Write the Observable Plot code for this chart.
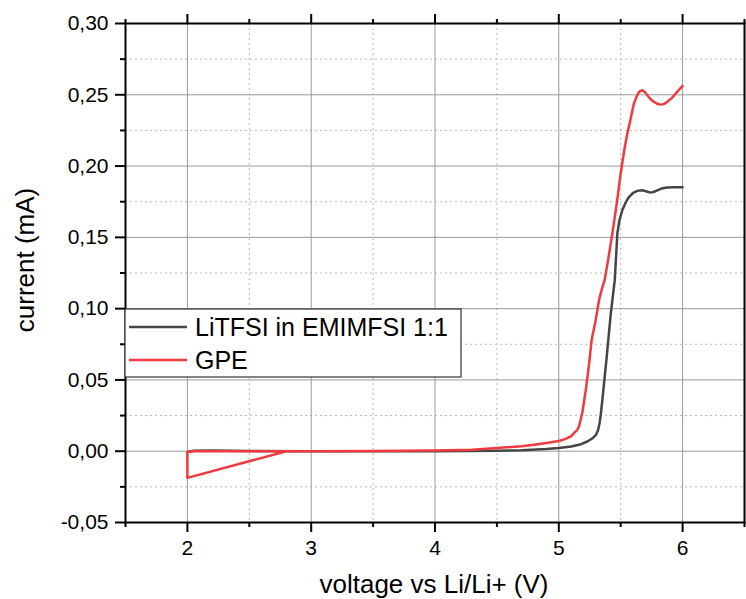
<!DOCTYPE html>
<html>
<head>
<meta charset="utf-8">
<script src="https://cdn.jsdelivr.net/npm/d3@7"></script>
<script src="https://cdn.jsdelivr.net/npm/@observablehq/plot@0.6"></script>
<style>
  html, body { margin: 0; padding: 0; background: #fff; }
  #chart { width: 746px; height: 599px; }
</style>
</head>
<body>
<div id="chart"></div>
<script>
// Series names
const seriesNames = ["LiTFSI in EMIMFSI 1:1", "GPE"];
const seriesColors = ["#454545", "#ef3b3f"];

// LiTFSI in EMIMFSI 1:1
const litfsiVoltage = [2.0, 2.05, 2.2, 2.5, 3.0, 3.5, 4.0, 4.5, 4.7, 4.9, 5.0, 5.1, 5.18, 5.23, 5.27, 5.3, 5.317, 5.33, 5.34, 5.36, 5.387, 5.42, 5.452, 5.473, 5.49, 5.513, 5.54, 5.567, 5.6, 5.634, 5.675, 5.71, 5.742, 5.77, 5.796, 5.83, 5.876, 5.93, 6.0];
const litfsiCurrent = [-0.0005, 0.0003, 0.0005, 0.0002, 0, 0, 0, 0.0003, 0.0007, 0.0015, 0.0023, 0.0033, 0.0049, 0.0068, 0.0089, 0.0115, 0.0147, 0.02, 0.0264, 0.0428, 0.0661, 0.0966, 0.12, 0.1527, 0.162, 0.169, 0.1745, 0.1783, 0.1812, 0.1826, 0.183, 0.1822, 0.1814, 0.182, 0.183, 0.1842, 0.1849, 0.1852, 0.1851];

// GPE
const gpeVoltage = [2.8, 2.0, 2.0, 2.05, 2.5, 3.0, 3.5, 4.0, 4.3, 4.5, 4.7, 4.8, 4.9, 5.0, 5.05, 5.1, 5.12, 5.15, 5.165, 5.19, 5.218, 5.245, 5.265, 5.298, 5.325, 5.345, 5.37, 5.4, 5.433, 5.47, 5.5, 5.53, 5.554, 5.58, 5.607, 5.63, 5.648, 5.675, 5.7, 5.715, 5.74, 5.769, 5.8, 5.823, 5.85, 5.876, 5.91, 5.944, 5.97, 6.0];
const gpeCurrent = [0, -0.0187, -0.0005, 0, 0, 0, 0.0002, 0.0005, 0.001, 0.0023, 0.0035, 0.0045, 0.0057, 0.0072, 0.0085, 0.0105, 0.0125, 0.015, 0.018, 0.027, 0.043, 0.0615, 0.078, 0.092, 0.106, 0.113, 0.12, 0.135, 0.153, 0.175, 0.195, 0.212, 0.223, 0.233, 0.244, 0.249, 0.252, 0.2532, 0.2515, 0.2497, 0.247, 0.245, 0.2435, 0.2431, 0.2436, 0.245, 0.2475, 0.2508, 0.2535, 0.2562];

// Ticks
const xMajorTicks = [2, 3, 4, 5, 6];
const xMinorTicks = [1.5, 2.5, 3.5, 4.5, 5.5, 6.5];
const yMajorTicks = [-0.05, 0, 0.05, 0.10, 0.15, 0.20, 0.25, 0.30];
const yMinorTicks = [-0.025, 0.025, 0.075, 0.125, 0.175, 0.225, 0.275];

const xDomain = [1.5, 6.5];
const yDomain = [-0.05, 0.30];

const rows = [];
litfsiVoltage.forEach((v, i) => rows.push({s: seriesNames[0], v, c: litfsiCurrent[i]}));
gpeVoltage.forEach((v, i) => rows.push({s: seriesNames[1], v, c: gpeCurrent[i]}));

const fmt = d => d.toFixed(2).replace(".", ",");
const font = "Liberation Sans, Arial, sans-serif";

const W = 746, H = 599;
const mL = 125, mR = 2, mT = 23, mB = 77;

const plot = Plot.plot({
  width: W,
  height: H,
  marginLeft: mL,
  marginRight: mR,
  marginTop: mT,
  marginBottom: mB,
  style: {fontFamily: font, background: "#fff", color: "#000"},
  x: {domain: xDomain},
  y: {domain: yDomain},
  color: {domain: seriesNames, range: seriesColors},
  marks: [
    Plot.gridX(xMinorTicks.slice(1, -1), {stroke: "#b8b8b8", strokeOpacity: 1, strokeDasharray: "2,3"}),
    Plot.gridY(yMinorTicks, {stroke: "#b8b8b8", strokeOpacity: 1, strokeDasharray: "2,3"}),
    Plot.gridX(xMajorTicks, {stroke: "#9a9a9a", strokeOpacity: 1}),
    Plot.gridY(yMajorTicks.slice(1, -1), {stroke: "#9a9a9a", strokeOpacity: 1}),
    Plot.axisY({ticks: yMajorTicks, tickSize: 10, tickPadding: 7, tickFormat: fmt, fontSize: 21, label: null, stroke: "#000", strokeWidth: 2}),
    Plot.axisY({ticks: yMinorTicks, tickSize: 5, tickFormat: () => "", label: null, strokeWidth: 2}),
    Plot.axisX({ticks: xMajorTicks, tickSize: 10, tickPadding: 8, tickFormat: d => String(d), fontSize: 21, label: null, strokeWidth: 2}),
    Plot.axisX({ticks: xMinorTicks, tickSize: 5, tickFormat: () => "", label: null, strokeWidth: 2}),
    Plot.axisX({anchor: "top", ticks: xMajorTicks, tickSize: 10, tickFormat: () => "", label: null, strokeWidth: 2}),
    Plot.axisX({anchor: "top", ticks: xMinorTicks, tickSize: 5, tickFormat: () => "", label: null, strokeWidth: 2}),
    Plot.line(rows, {x: "v", y: "c", z: "s", stroke: "s", strokeWidth: 2.5, strokeLinejoin: "round"}),
    Plot.frame({stroke: "#000", strokeWidth: 2})
  ]
});

document.getElementById("chart").appendChild(plot);

const svg = d3.select(plot);
// Axis titles
svg.append("text")
  .attr("x", 434).attr("y", 593)
  .attr("text-anchor", "middle")
  .attr("font-family", font).attr("font-size", 26).attr("fill", "#000")
  .text("voltage vs Li/Li+ (V)");
svg.append("text")
  .attr("transform", "translate(34,260) rotate(-90)")
  .attr("text-anchor", "middle")
  .attr("font-family", font).attr("font-size", 26).attr("fill", "#000")
  .text("current (mA)");

// Legend
const lg = svg.append("g");
lg.append("rect").attr("x", 125).attr("y", 309).attr("width", 336).attr("height", 68)
  .attr("fill", "#fff").attr("stroke", "#333").attr("stroke-width", 1.2);
seriesNames.forEach((name, i) => {
  const y = 327 + i * 33;
  lg.append("line").attr("x1", 129).attr("x2", 187).attr("y1", y).attr("y2", y)
    .attr("stroke", seriesColors[i]).attr("stroke-width", 2.5);
  lg.append("text").attr("x", 195).attr("y", y).attr("dy", "0.36em")
    .attr("text-anchor", "start")
    .attr("font-family", font).attr("font-size", 25).attr("fill", "#000")
    .text(name);
});
</script>
</body>
</html>
